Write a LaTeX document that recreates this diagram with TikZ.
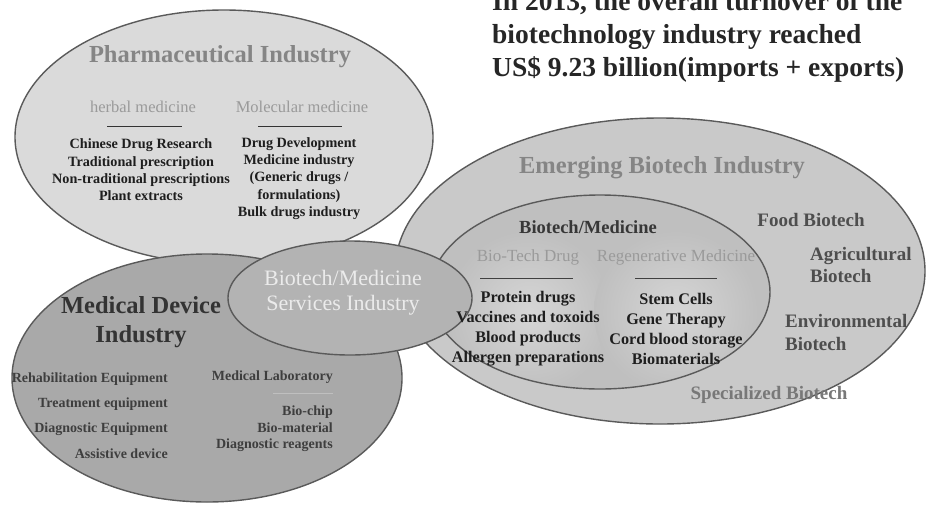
\documentclass[tikz,border=0pt]{standalone}
\usepackage{fontspec}
\setmainfont{Liberation Serif}
\usetikzlibrary{shapes.geometric}
\definecolor{edgec}{HTML}{5A5A5A}
\definecolor{pharmac}{HTML}{DADADA}
\definecolor{emergc}{HTML}{C9C9C9}
\definecolor{innerc}{HTML}{BFBFBF}
\definecolor{glowc}{HTML}{D6D6D6}
\definecolor{medc}{HTML}{A9A9A9}
\definecolor{servc}{HTML}{B3B3B3}
\definecolor{titlegray}{HTML}{858585}
\definecolor{subgray}{HTML}{9A9A9A}
\definecolor{darktext}{HTML}{1E1E1E}
\definecolor{midtext}{HTML}{4E4E4E}
\tikzset{
  blob/.style={ellipse, draw=edgec, line width=1.4pt, inner sep=0pt},
  bigtitle/.style={font=\bfseries\fontsize{24.5}{29}\selectfont, inner sep=0pt},
  subhead/.style={font=\fontsize{16.5}{20}\selectfont, text=subgray, inner sep=0pt},
  itemcol/.style={font=\bfseries\fontsize{14.2}{17.3}\selectfont, text=darktext, align=center, inner sep=0pt},
  bioitem/.style={font=\bfseries\fontsize{16.2}{20}\selectfont, text=darktext, align=center, inner sep=0pt},
  sidelabel/.style={font=\bfseries\fontsize{19}{23}\selectfont, text=midtext, inner sep=0pt},
  devitem/.style={font=\bfseries\fontsize{14}{25.3}\selectfont, text=midtext!80!black, inner sep=0pt},
  rule/.style={line width=1pt, draw=#1},
}
\begin{document}
\begin{tikzpicture}[x=1pt,y=-1pt]
\useasboundingbox (0,0) rectangle (926,504);
\fill[white] (0,0) rectangle (926,504);

% ---------- shapes ----------
\node[blob, fill=pharmac, minimum width=418pt, minimum height=254pt] (pharma) at (224,137) {};
\node[blob, fill=emergc, minimum width=530pt, minimum height=306pt] (emerg) at (660,271) {};
\node[blob, fill=innerc, draw=none, minimum width=340pt, minimum height=194pt] (innerfill) at (600,292) {};
\begin{scope}
  \clip (600,292) ellipse [x radius=170pt, y radius=97pt];
  \shade[inner color=glowc, outer color=innerc] (529,312) circle [radius=82pt];
  \shade[inner color=glowc, outer color=innerc] (676,312) circle [radius=82pt];
\end{scope}
\node[blob, minimum width=340pt, minimum height=194pt] (inner) at (600,292) {};
\node[blob, fill=medc, minimum width=390pt, minimum height=248pt] (med) at (207,378) {};
\node[blob, fill=servc, minimum width=244pt, minimum height=114pt] (serv) at (350,298) {};

% ---------- Pharmaceutical Industry texts ----------
\node[bigtitle, text=titlegray] (pharmatitle) at (220,57) {Pharmaceutical Industry};
\node[subhead] (herbal) at (143,107) {herbal medicine};
\node[subhead] (molec) at (302,107) {Molecular medicine};
\coordinate (hl1) at (107,126); \coordinate (hl2) at (182,126);
\coordinate (ml1) at (258,126); \coordinate (ml2) at (342,126);
\draw[rule=black!80] (hl1) -- (hl2);
\draw[rule=black!80] (ml1) -- (ml2);
\node[itemcol] (herbitems) at (141,170) {Chinese Drug Research\\Traditional prescription\\Non-traditional prescriptions\\Plant extracts};
\node[itemcol] (molitems) at (299,178.5) {Drug Development\\Medicine industry\\(Generic drugs /\\formulations)\\Bulk drugs industry};

% ---------- Emerging Biotech Industry texts ----------
\node[bigtitle, text=titlegray] (emergtitle) at (662,168) {Emerging Biotech Industry};
\node[font=\bfseries\fontsize{18.5}{22}\selectfont, text=midtext!70!black, inner sep=0pt] (biomed) at (588,227) {Biotech/Medicine};
\node[font=\fontsize{17}{20}\selectfont, text=subgray, inner sep=0pt] (btdrug) at (528,257) {Bio-Tech Drug};
\node[font=\fontsize{17}{20}\selectfont, text=subgray, inner sep=0pt] (regen) at (676,257) {Regenerative Medicine};
\coordinate (bl1) at (480,278); \coordinate (bl2) at (573,278);
\coordinate (rl1) at (635,278); \coordinate (rl2) at (717,278);
\draw[rule=black!75] (bl1) -- (bl2);
\draw[rule=black!75] (rl1) -- (rl2);
\node[bioitem] (btitems) at (528,329) {Protein drugs\\Vaccines and toxoids\\Blood products\\Allergen preparations};
\node[bioitem] (rgitems) at (676,329) {Stem Cells\\Gene Therapy\\Cord blood storage\\Biomaterials};
\node[sidelabel] (food) at (811,220) {Food Biotech};
\node[sidelabel, align=left, anchor=west, font=\bfseries\fontsize{19}{22.5}\selectfont] (agri) at (810,265) {Agricultural\\Biotech};
\node[sidelabel, align=left, anchor=west, font=\bfseries\fontsize{19}{23}\selectfont] (env) at (785,332) {Environmental\\Biotech};
\node[sidelabel, text=titlegray!90!black] (spec) at (769,395) {Specialized Biotech};

% ---------- Medical Device Industry texts ----------
\node[bigtitle, text=black!80, align=center] (medtitle) at (141,322) {Medical Device\\Industry};
\node[devitem, align=right, anchor=east] (devleft) at (168,415.5) {Rehabilitation Equipment\\Treatment equipment\\Diagnostic Equipment\\Assistive device};
\node[devitem, anchor=east] (medlab) at (333,377) {Medical Laboratory};
\coordinate (dl1) at (273,393); \coordinate (dl2) at (333,393);
\draw[rule=black!25] (dl1) -- (dl2);
\node[devitem, align=right, anchor=east, font=\bfseries\fontsize{14}{16.5}\selectfont] (devright) at (333,429) {Bio-chip\\Bio-material\\Diagnostic reagents};

% ---------- Services text ----------
\node[font=\fontsize{22}{25}\selectfont, text=white!92!black, align=center, inner sep=0pt] (servtext) at (343,293) {Biotech/Medicine\\Services Industry};

% ---------- Top-right statement ----------
\node[font=\bfseries\fontsize{27.5}{33}\selectfont, text=black!85, align=left, anchor=west, inner sep=0pt] (turnover) at (492,37) {In 2013, the overall turnover of the\\biotechnology industry reached\\US\$ 9.23 billion(imports + exports)};
\end{tikzpicture}
\end{document}
